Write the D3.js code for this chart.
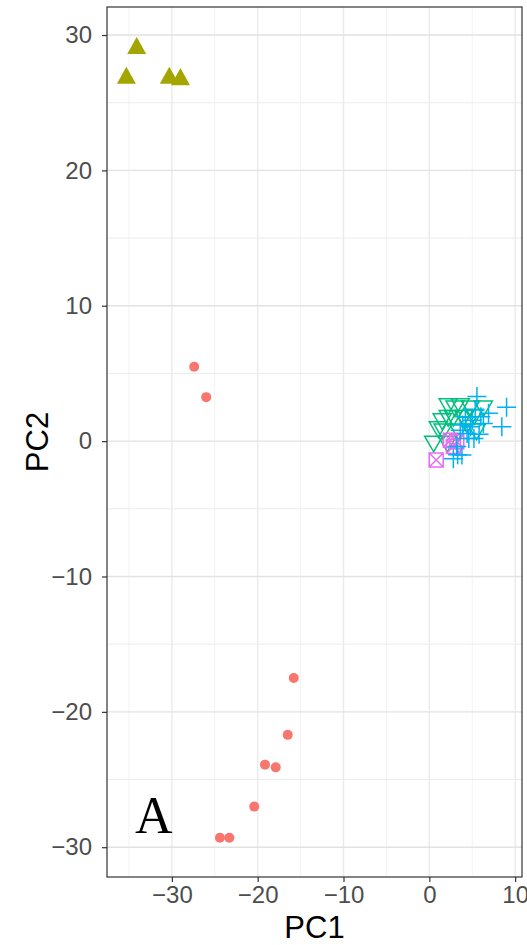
<html>
    <head>
        <title>PCA plot</title>
        <script src="https://d3js.org/d3.v7.min.js"></script>
        <style>
            body { margin: 0; background: white; }
            text { font-family: "Liberation Sans", Arial, sans-serif; }
        </style>
    </head>
    <body>
        <div id="chart"></div>
    </body>
    <script>
        // groups: [PC1, PC2]
        var groupA = [[-27.4, 5.5], [-26.0, 3.25], [-15.8, -17.5], [-16.5, -21.7], [-19.15, -23.9],
                      [-17.9, -24.1], [-20.4, -27.0], [-24.4, -29.3], [-23.3, -29.3]];
        var groupB = [[-34.1, 29.1], [-35.3, 26.9], [-30.3, 26.9], [-29.0, 26.8]];
        var groupC = [[3.0, 2.5], [4.8, 2.5], [6.3, 2.5], [2.2, 2.66], [3.6, 2.66], [2.2, 1.8], [4.0, 1.8],
                      [1.5, 1.55], [2.8, 1.8], [1.6, 0.8], [3.4, 0.8], [5.5, 0.8], [1.05, 0.96],
                      [0.5, -0.1], [2.1, -0.1], [4.4, 1.3], [5.2, 1.9]];
        var groupD = [[9.0, 2.5], [8.45, 1.06], [5.55, 3.3], [6.9, 2.05], [6.3, 1.3], [5.0, 1.55],
                      [4.4, 0.57], [3.6, 0.8], [3.8, -1.03], [2.8, -1.3], [3.2, -0.4], [5.35, 2.3], [4.8, 1.06],
                      [4.2, 1.8], [5.8, 0.5], [4.6, 0.2], [3.9, 1.2], [5.2, 0.2], [6.0, 1.8], [3.3, -1.0]];
        var groupE = [[0.8, -1.4], [3.2, -0.05], [2.45, 0.07], [2.8, -0.4]];

        var xTicks = [-30, -20, -10, 0, 10];
        var yTicks = [-30, -20, -10, 0, 10, 20, 30];
        var xMinor = [-35, -25, -15, -5, 5];
        var yMinor = [-25, -15, -5, 5, 15, 25];

        var W = 527, H = 945;
        var pL = 107, pR = 522, pT = 7, pB = 877;

        var svg = d3.select("#chart").append("svg")
            .attr("width", W).attr("height", H);

        var x = d3.scaleLinear().domain([-37.56, 10.8]).range([pL, pR]);
        var y = d3.scaleLinear().domain([-32.2, 32.07]).range([pB, pT]);

        // grid
        var grid = svg.append("g");
        grid.selectAll(".vminor").data(xMinor).enter().append("line")
            .attr("x1", d => x(d)).attr("x2", d => x(d)).attr("y1", pT).attr("y2", pB)
            .style("stroke", "#f3f3f3").style("stroke-width", 1);
        grid.selectAll(".hminor").data(yMinor).enter().append("line")
            .attr("y1", d => y(d)).attr("y2", d => y(d)).attr("x1", pL).attr("x2", pR)
            .style("stroke", "#ececec").style("stroke-width", 1);
        grid.selectAll(".vmajor").data(xTicks).enter().append("line")
            .attr("x1", d => x(d)).attr("x2", d => x(d)).attr("y1", pT).attr("y2", pB)
            .style("stroke", "#ebebeb").style("stroke-width", 1.4);
        grid.selectAll(".hmajor").data(yTicks).enter().append("line")
            .attr("y1", d => y(d)).attr("y2", d => y(d)).attr("x1", pL).attr("x2", pR)
            .style("stroke", "#e2e2e2").style("stroke-width", 1.4);

        // symbol paths
        function triUp(s) {
            var h = s * 0.9;
            return "M0," + (-h * 0.6) + "L" + (s / 2) + "," + (h * 0.4) + "L" + (-s / 2) + "," + (h * 0.4) + "Z";
        }
        function triDown(s) {
            var h = s * 0.87;
            return "M0," + (h * 0.6) + "L" + (s / 2) + "," + (-h * 0.4) + "L" + (-s / 2) + "," + (-h * 0.4) + "Z";
        }
        function plus(s) {
            var a = s / 2;
            return "M" + (-a) + ",0H" + a + "M0," + (-a) + "V" + a;
        }
        function boxX(s) {
            var a = s / 2;
            return "M" + (-a) + "," + (-a) + "H" + a + "V" + a + "H" + (-a) + "Z" +
                   "M" + (-a) + "," + (-a) + "L" + a + "," + a + "M" + a + "," + (-a) + "L" + (-a) + "," + a;
        }

        var pts = svg.append("g");

        pts.selectAll(".a").data(groupA).enter().append("circle")
            .attr("cx", d => x(d[0])).attr("cy", d => y(d[1])).attr("r", 5)
            .style("fill", "#F8766D");

        pts.selectAll(".b").data(groupB).enter().append("path")
            .attr("transform", d => "translate(" + x(d[0]) + "," + y(d[1]) + ")")
            .attr("d", triUp(19))
            .style("fill", "#A3A500");

        pts.selectAll(".c").data(groupC).enter().append("path")
            .attr("transform", d => "translate(" + x(d[0]) + "," + y(d[1]) + ")")
            .attr("d", triDown(18))
            .style("fill", "none").style("stroke", "#00BF7D").style("stroke-width", 1.5);

        pts.selectAll(".e").data(groupE).enter().append("path")
            .attr("transform", d => "translate(" + x(d[0]) + "," + y(d[1]) + ")")
            .attr("d", boxX(14))
            .style("fill", "none").style("stroke", "#E76BF3").style("stroke-width", 1.5);

        pts.selectAll(".d").data(groupD).enter().append("path")
            .attr("transform", d => "translate(" + x(d[0]) + "," + y(d[1]) + ")")
            .attr("d", plus(19))
            .style("fill", "none").style("stroke", "#00B0F6").style("stroke-width", 1.5);

        // panel border
        svg.append("rect")
            .attr("x", pL).attr("y", pT).attr("width", pR - pL).attr("height", pB - pT)
            .style("fill", "none").style("stroke", "#333").style("stroke-width", 1.2);

        // axes
        var fmt = d => d < 0 ? "\u2212" + Math.abs(d) : d;
        var xAxis = svg.append("g")
            .attr("transform", "translate(0," + pB + ")")
            .call(d3.axisBottom(x).tickValues(xTicks).tickSize(5).tickPadding(4).tickFormat(fmt));
        var yAxis = svg.append("g")
            .attr("transform", "translate(" + pL + ",0)")
            .call(d3.axisLeft(y).tickValues(yTicks).tickSize(5).tickPadding(10).tickFormat(fmt));
        [xAxis, yAxis].forEach(function(a) {
            a.select(".domain").remove();
            a.selectAll(".tick line").style("stroke", "#333").style("stroke-width", 1.2);
            a.selectAll(".tick text").style("fill", "#4d4d4d").style("font-size", "24px")
                .style("font-family", "'Liberation Sans', Arial, sans-serif");
        });

        // axis titles
        svg.append("text")
            .attr("x", (pL + pR) / 2).attr("y", 938)
            .style("text-anchor", "middle").style("font-size", "31px").style("fill", "black")
            .text("PC1");
        svg.append("text")
            .attr("transform", "translate(48," + ((pT + pB) / 2) + ") rotate(-90)")
            .style("text-anchor", "middle").style("font-size", "31px").style("fill", "black")
            .text("PC2");

        // panel tag
        svg.append("text")
            .attr("x", 135).attr("y", 833)
            .style("font-family", "'Liberation Serif', 'Times New Roman', serif")
            .style("font-size", "52px").style("fill", "black")
            .text("A");
    </script>
</html>
